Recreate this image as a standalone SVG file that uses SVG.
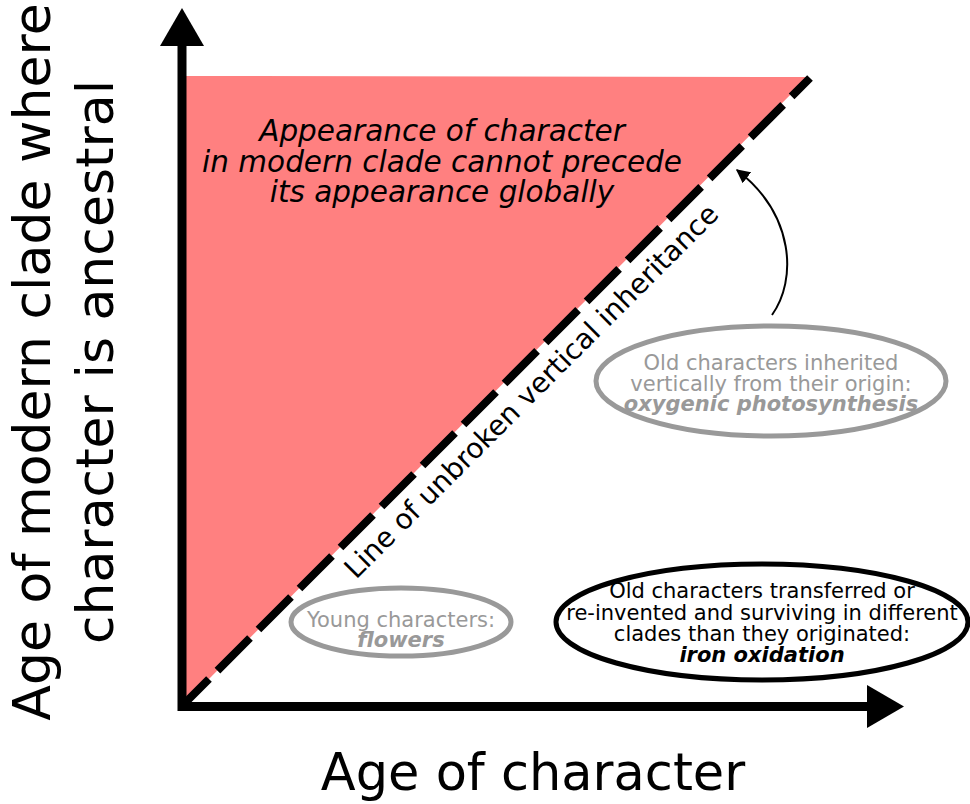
<svg xmlns="http://www.w3.org/2000/svg" width="970" height="804" viewBox="0 0 970 804">
<defs>
<style>
text{font-family:"DejaVu Sans","Liberation Sans",sans-serif;}
.ax{font-size:51px;fill:#000;}
.ay{font-size:52px;fill:#000;}
.title{font-size:29.5px;font-style:italic;fill:#000;text-anchor:middle;}
.diag{font-size:28px;fill:#000;text-anchor:middle;}
.lbl{font-size:21px;text-anchor:middle;}
.gray{fill:#999999;}
.blk{fill:#000;}
.em{font-weight:bold;font-style:italic;}
.ell-g{fill:#fff;stroke:#999999;stroke-width:5;}
.ell-b{fill:#fff;stroke:#000;stroke-width:5;}
</style>
<marker id="ah" viewBox="0 0 10 10" refX="9" refY="5" markerWidth="7" markerHeight="7" orient="auto" markerUnits="strokeWidth">
<path d="M0,0 L10,5 L0,10 z" fill="#000"/>
</marker>
</defs>
<rect width="970" height="804" fill="#fff"/>
<g id="region">
<polygon points="186,76 808,77 186,702" fill="#ff8080"/>
</g>
<g id="connectors">
<path d="M810,78 L186,702" fill="none" stroke="#000" stroke-width="8" stroke-dasharray="46,12" stroke-dashoffset="20"/>
<path d="M772,315 C797,280 795,215 737,170" fill="none" stroke="#000" stroke-width="2" marker-end="url(#ah)"/>
</g>
<g id="axes">
<path d="M182,46 V706.5 H867" fill="none" stroke="#000" stroke-width="9" stroke-linejoin="miter"/>
<polygon points="182,8 160,46 204,46" fill="#000"/>
<polygon points="904,706.5 867,685 867,728" fill="#000"/>
</g>
<g id="y-label">
<text class="ay" text-anchor="middle" transform="translate(50,362) rotate(-90)"><tspan x="0" y="0">Age of modern clade where</tspan><tspan x="0" y="63">character is ancestral</tspan></text>
</g>
<g id="x-label">
<text class="ax" x="533" y="790" text-anchor="middle">Age of character</text>
</g>
<g id="title">
<text class="title"><tspan x="442" y="141">Appearance of character</tspan><tspan x="442" y="172">in modern clade cannot precede</tspan><tspan x="442" y="202">its appearance globally</tspan></text>
</g>
<g id="diag-label">
<text class="diag" transform="translate(538,398) rotate(-45)" x="0" y="0">Line of unbroken vertical inheritance</text>
</g>
<g id="node-old-vertical">
<ellipse class="ell-g" cx="771" cy="381" rx="175" ry="55"/>
<text class="lbl gray"><tspan x="771" y="370">Old characters inherited</tspan><tspan x="771" y="391">vertically from their origin:</tspan><tspan x="771" y="411" class="em">oxygenic photosynthesis</tspan></text>
</g>
<g id="node-young">
<ellipse class="ell-g" cx="401" cy="622" rx="110" ry="34"/>
<text class="lbl gray"><tspan x="401" y="627">Young characters:</tspan><tspan x="401" y="647" class="em">flowers</tspan></text>
</g>
<g id="node-transferred">
<ellipse class="ell-b" cx="762" cy="622" rx="206" ry="58"/>
<text class="lbl blk"><tspan x="762" y="598">Old characters transferred or</tspan><tspan x="762" y="620">re-invented and surviving in different</tspan><tspan x="762" y="641">clades than they originated:</tspan><tspan x="762" y="662" class="em">iron oxidation</tspan></text>
</g>
</svg>
